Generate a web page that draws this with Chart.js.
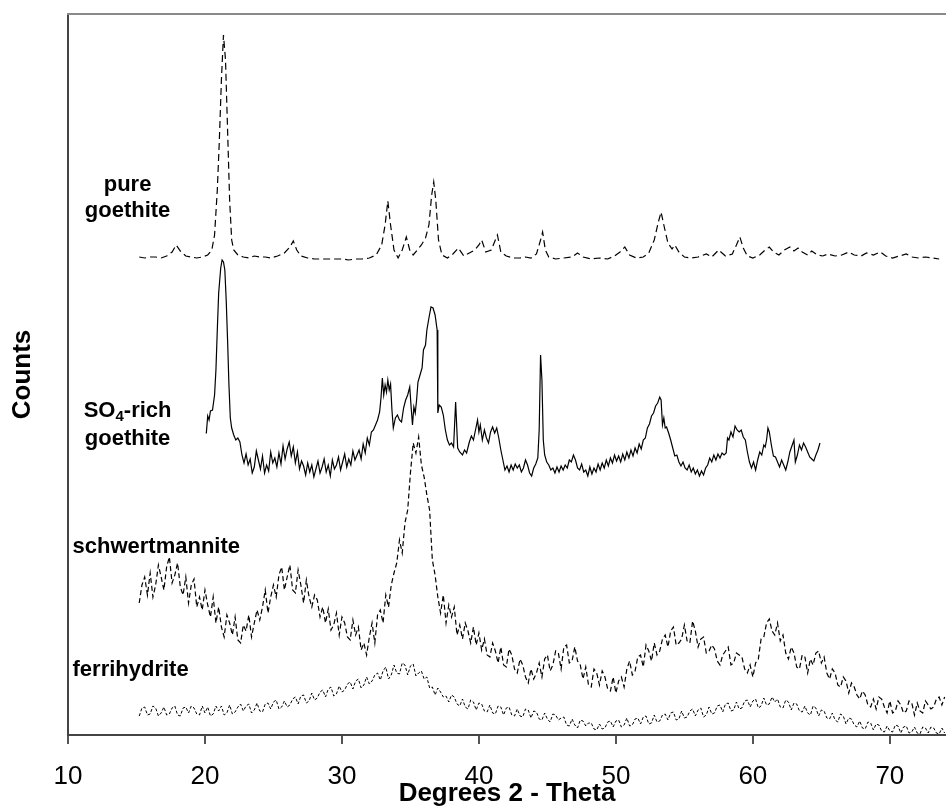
<!DOCTYPE html>
<html>
<head>
<meta charset="utf-8">
<title>XRD patterns</title>
<script src="https://cdn.jsdelivr.net/npm/chart.js@4.4.1/dist/chart.umd.min.js"></script>
<style>
  html, body { margin: 0; padding: 0; background: #fff; }
  #xrd { display: block; }
</style>
</head>
<body>
<canvas id="xrd" width="946" height="810"></canvas>
<script>
const fontFamily = '"Liberation Sans", Arial, Helvetica, sans-serif'

// x axis tick labels (degrees 2-theta)
const thetaTicks = [10, 20, 30, 40, 50, 60, 70]

// pure goethite (offset upwards)
const pureTheta = [
    15.2, 15.6, 16.0, 16.4, 16.8, 17.2, 17.6, 17.9, 18.2, 18.6, 19.0, 19.4, 19.8, 20.2, 20.5, 20.7, 20.9, 21.05, 21.2, 21.35,
    21.5, 21.65, 21.8, 21.95, 22.1, 22.4, 22.8, 23.2, 23.6, 24.0, 24.4, 24.8, 25.3, 25.8, 26.2, 26.45, 26.7, 27.0, 27.5, 28.0,
    28.5, 29.0, 29.5, 30.0, 30.5, 31.0, 31.5, 32.0, 32.5, 32.9, 33.15, 33.35, 33.55, 33.8, 34.1, 34.4, 34.7, 34.95, 35.2, 35.5,
    35.8, 36.1, 36.35, 36.55, 36.7, 36.85, 37.05, 37.3, 37.7, 38.1, 38.5, 38.9, 39.3, 39.7, 40.0, 40.2, 40.5, 40.9, 41.2, 41.35,
    41.6, 42.0, 42.5, 43.0, 43.4, 43.8, 44.2, 44.5, 44.65, 44.85, 45.1, 45.6, 46.2, 46.8, 47.2, 47.6, 48.2, 48.8, 49.4, 49.9,
    50.3, 50.65, 51.0, 51.5, 52.0, 52.4, 52.8, 53.1, 53.3, 53.5, 53.8, 54.1, 54.3, 54.6, 55.0, 55.5, 56.0, 56.6, 57.0, 57.5,
    58.0, 58.5, 58.8, 59.05, 59.3, 59.6, 60.0, 60.5, 60.9, 61.2, 61.5, 61.9, 62.3, 62.7, 63.0, 63.3, 63.6, 64.0, 64.3, 64.7,
    65.1, 65.5, 66.0, 66.5, 67.0, 67.4, 67.9, 68.3, 68.8, 69.3, 69.7, 70.2, 70.7, 71.2, 71.6, 72.1, 72.6, 73.1, 73.6
]
const pureCounts = [
    478, 477, 478, 478, 477, 479, 483, 490, 484, 479, 478, 477, 478, 480, 485, 500, 545, 595, 655, 700,
    675, 605, 535, 495, 485, 480, 478, 477, 479, 478, 478, 477, 479, 482, 488, 494, 485, 479, 477, 476,
    476, 476, 476, 476, 475, 476, 476, 477, 480, 490, 510, 534, 510, 485, 477, 485, 498, 485, 480, 485,
    490, 497, 510, 540, 553, 535, 495, 480, 477, 481, 487, 479, 482, 485, 490, 495, 483, 485, 495, 500,
    483, 479, 477, 477, 478, 477, 481, 495, 503, 485, 478, 476, 477, 478, 482, 478, 476, 477, 476, 479,
    483, 488, 480, 477, 478, 482, 495, 513, 523, 510, 492, 486, 490, 483, 478, 477, 478, 481, 478, 485,
    479, 481, 490, 498, 487, 479, 477, 480, 485, 488, 483, 480, 485, 488, 484, 487, 483, 480, 484, 480,
    479, 481, 479, 480, 483, 480, 479, 482, 480, 483, 479, 477, 479, 481, 478, 477, 478, 477, 476
]

// SO4-rich goethite
const so4Theta = [
    20.05, 20.1, 20.2, 20.3, 20.4, 20.55, 20.7, 20.8, 20.9, 21.0, 21.15, 21.25, 21.35, 21.45, 21.55, 21.65, 21.75, 21.85, 21.95, 22.1,
    22.25, 22.4, 22.55, 22.7, 22.85, 23.0, 23.15, 23.3, 23.45, 23.6, 23.75, 23.9, 24.05, 24.2, 24.35, 24.5, 24.65, 24.8, 24.95, 25.1,
    25.25, 25.4, 25.55, 25.7, 25.85, 26.0, 26.15, 26.3, 26.45, 26.6, 26.75, 26.9, 27.05, 27.2, 27.35, 27.5, 27.65, 27.8, 27.95, 28.1,
    28.25, 28.4, 28.55, 28.7, 28.85, 29.0, 29.15, 29.3, 29.45, 29.6, 29.75, 29.9, 30.05, 30.2, 30.35, 30.5, 30.65, 30.8, 30.95, 31.1,
    31.25, 31.4, 31.55, 31.7, 31.85, 32.0, 32.15, 32.3, 32.45, 32.6, 32.75, 32.85, 32.95, 33.05, 33.15, 33.25, 33.35, 33.45, 33.55, 33.65,
    33.75, 33.9, 34.05, 34.2, 34.35, 34.5, 34.65, 34.8, 34.95, 35.05, 35.15, 35.25, 35.35, 35.45, 35.55, 35.7, 35.85, 35.95, 36.1, 36.2,
    36.35, 36.5, 36.65, 36.8, 36.95, 37.0, 37.1, 37.25, 37.4, 37.55, 37.7, 37.85, 38.0, 38.15, 38.3, 38.45, 38.6, 38.8, 38.95, 39.1,
    39.3, 39.45, 39.6, 39.75, 39.9, 40.0, 40.1, 40.25, 40.4, 40.55, 40.7, 40.85, 41.0, 41.15, 41.3, 41.45, 41.6, 41.75, 41.9, 42.05,
    42.2, 42.35, 42.5, 42.65, 42.8, 42.95, 43.1, 43.25, 43.4, 43.55, 43.7, 43.85, 44.0, 44.15, 44.3, 44.4, 44.5, 44.6, 44.7, 44.8,
    44.95, 45.1, 45.25, 45.4, 45.55, 45.7, 45.85, 46.0, 46.15, 46.3, 46.45, 46.6, 46.75, 46.9, 47.05, 47.2, 47.35, 47.5, 47.65, 47.8,
    47.95, 48.1, 48.25, 48.4, 48.55, 48.7, 48.85, 49.0, 49.15, 49.3, 49.45, 49.6, 49.75, 49.9, 50.05, 50.2, 50.35, 50.5, 50.65, 50.8,
    50.95, 51.1, 51.25, 51.4, 51.55, 51.7, 51.85, 52.0, 52.15, 52.3, 52.45, 52.6, 52.75, 52.9, 53.05, 53.2, 53.3, 53.4, 53.5, 53.6,
    53.7, 53.85, 54.0, 54.15, 54.3, 54.45, 54.6, 54.75, 54.9, 55.05, 55.2, 55.35, 55.5, 55.65, 55.8, 55.95, 56.1, 56.25, 56.4, 56.55,
    56.7, 56.85, 57.0, 57.15, 57.3, 57.45, 57.6, 57.75, 57.9, 58.05, 58.15, 58.25, 58.4, 58.55, 58.7, 58.85, 59.0, 59.15, 59.3, 59.45,
    59.6, 59.75, 59.9, 60.05, 60.2, 60.35, 60.5, 60.65, 60.8, 60.9, 61.0, 61.1, 61.2, 61.35, 61.5, 61.65, 61.8, 61.95, 62.1, 62.25,
    62.4, 62.55, 62.7, 62.85, 63.0, 63.1, 63.25, 63.4, 63.55, 63.7, 63.85, 64.0, 64.15, 64.3, 64.45, 64.6, 64.75, 64.9
]
const so4Counts = [
    302, 302, 319, 315, 324, 325, 340, 365, 405, 442, 467, 475, 473, 465, 435, 395, 350, 317, 307, 300,
    295, 297, 293, 280, 272, 281, 270, 276, 262, 268, 284, 275, 266, 279, 262, 270, 264, 283, 272, 277,
    268, 282, 271, 289, 276, 286, 293, 279, 288, 272, 283, 266, 274, 269, 260, 272, 263, 270, 258, 266,
    274, 262, 268, 276, 263, 270, 259, 275, 266, 270, 278, 265, 273, 281, 268, 276, 270, 284, 275, 280,
    285, 276, 291, 282, 297, 290, 303, 305, 310, 315, 323, 337, 357, 340, 350, 343, 355, 345, 351, 325,
    307, 317, 320, 315, 313, 327, 335, 340, 348, 328, 310, 328, 322, 335, 353, 360, 367, 385, 390, 405,
    417, 428, 427, 420, 405, 322, 330, 328, 320, 305, 295, 290, 292, 288, 333, 287, 283, 280, 285, 282,
    293, 299, 295, 305, 315, 303, 310, 295, 305, 297, 292, 303, 308, 302, 307, 297, 285, 275, 265, 269,
    263, 270, 265, 271, 267, 270, 263, 267, 275, 270, 262, 259, 267, 271, 277, 305, 380, 355, 295, 280,
    273, 270, 265, 267, 262, 268, 263, 269, 265, 270, 267, 275, 273, 280, 275, 267, 265, 271, 263, 265,
    259, 268, 261, 267, 263, 271, 265, 272, 267, 275, 269, 277, 272, 280, 274, 279, 273, 281, 275, 283,
    277, 285, 279, 287, 282, 291, 286, 295, 297, 307, 311, 319, 322, 329, 332, 338, 335, 310, 317, 307,
    308, 302, 295, 287, 279, 280, 273, 269, 273, 267, 265, 270, 263, 267, 261, 265, 259, 264, 260, 267,
    270, 277, 273, 280, 275, 281, 277, 282, 280, 282, 297, 295, 303, 298, 309, 305, 303, 305, 298, 295,
    283, 273, 267, 273, 265, 275, 283, 280, 290, 288, 295, 307, 303, 290, 279, 278, 273, 268, 275, 270,
    265, 273, 283, 289, 295, 273, 280, 290, 285, 292, 288, 283, 278, 276, 274, 280, 285, 292
]

// schwertmannite and ferrihydrite were scanned in 0.2 degree steps from 15.2
const scanStart = 15.2
const scanStep = 0.2

const schwCounts = [
    132, 150, 158, 140,
    162, 138, 150, 170, 158,
    145, 168, 178, 152, 160,
    172, 148, 140, 158, 132,
    150, 156, 128, 138, 125,
    145, 130, 118, 138, 112,
    128, 108, 98, 120, 112,
    100, 118, 95, 92, 110,
    104, 120, 98, 112, 125,
    115, 128, 145, 122, 138,
    150, 138, 160, 168, 145,
    158, 170, 145, 142, 165,
    150, 132, 155, 138, 128,
    140, 135, 118, 128, 112,
    126, 105, 110, 122, 100,
    118, 112, 98, 95, 115,
    100, 108, 85, 92, 80,
    98, 112, 92, 120, 125,
    112, 140, 128, 150, 162,
    172, 195, 182, 212, 225,
    262, 292, 282, 298, 270,
    258, 240, 225, 175, 160,
    138, 122, 140, 112, 130,
    118, 128, 100, 110, 96,
    112, 104, 92, 108, 90,
    102, 85, 96, 80, 78,
    92, 84, 72, 88, 70,
    68, 86, 80, 66, 62,
    76, 70, 58, 52, 66,
    56, 62, 72, 58, 76,
    80, 64, 70, 84, 82,
    66, 88, 90, 72, 74,
    88, 74, 70, 56, 68,
    50, 48, 66, 62, 50,
    64, 58, 46, 44, 58,
    42, 54, 58, 48, 66,
    74, 60, 64, 78, 80,
    68, 90, 84, 74, 92,
    80, 84, 96, 100, 88,
    104, 108, 90, 92, 96,
    110, 94, 92, 114, 104,
    88, 96, 98, 82, 84,
    90, 86, 74, 70, 80,
    84, 88, 70, 72, 82,
    80, 78, 66, 62, 70,
    58, 72, 76, 96, 98,
    112, 116, 104, 100, 112,
    94, 100, 82, 76, 88,
    82, 68, 66, 80, 78,
    62, 76, 70, 82, 84,
    72, 78, 62, 56, 66,
    62, 50, 48, 58, 54,
    42, 52, 48, 40, 36,
    44, 40, 30, 28, 36,
    26, 38, 36, 28, 22,
    34, 22, 24, 34, 30,
    22, 24, 34, 32, 20,
    32, 24, 22, 34, 30,
    26, 28, 36, 38, 30,
    38
]

const ferriCounts = [
    19, 27, 28, 20,
    21, 29, 27, 19, 22,
    28, 20, 21, 27, 29,
    20, 19, 27, 28, 22,
    29, 27, 21, 20, 29,
    22, 28, 19, 21, 29,
    24, 29, 20, 22, 30,
    21, 23, 28, 31, 24,
    29, 31, 22, 25, 32,
    24, 23, 31, 32, 26,
    33, 35, 26, 28, 34,
    28, 30, 36, 38, 31,
    39, 40, 32, 34, 42,
    35, 37, 43, 45, 38,
    46, 48, 39, 41, 49,
    43, 45, 51, 53, 46,
    54, 56, 47, 50, 58,
    51, 54, 60, 62, 55,
    64, 68, 56, 60, 70,
    62, 61, 72, 70, 60,
    69, 71, 59, 62, 64,
    56, 58, 47, 48, 40,
    47, 43, 38, 39, 33,
    40, 38, 31, 29, 36,
    28, 26, 35, 33, 25,
    32, 31, 24, 23, 30,
    22, 21, 29, 28, 20,
    27, 28, 20, 19, 26,
    19, 18, 26, 25, 17,
    24, 23, 16, 15, 22,
    16, 13, 21, 20, 15,
    17, 18, 10, 9, 16,
    10, 7, 15, 14, 9,
    12, 12, 6, 5, 11,
    6, 7, 13, 14, 8,
    14, 15, 8, 10, 17,
    9, 10, 16, 17, 11,
    18, 19, 11, 12, 20,
    13, 14, 20, 21, 15,
    22, 23, 15, 16, 24,
    17, 18, 24, 26, 19,
    25, 27, 18, 20, 28,
    21, 22, 29, 30, 23,
    31, 32, 24, 25, 33,
    26, 27, 34, 35, 28,
    34, 36, 27, 29, 37,
    30, 31, 38, 33, 36,
    28, 27, 35, 33, 25,
    32, 31, 24, 23, 29,
    22, 20, 29, 27, 19,
    25, 24, 17, 16, 22,
    15, 13, 21, 19, 11,
    17, 16, 10, 8, 14,
    7, 6, 13, 12, 5,
    11, 10, 4, 3, 9,
    4, 3, 10, 9, 2,
    8, 9, 2, 3, 8,
    2, 1, 8, 7, 2,
    8, 7, 2, 1, 7,
    2
]

// sample names drawn inside the plot, anchored in data units
const sampleNames = ['pure', 'goethite', 'SO4-rich', 'goethite', 'schwertmannite', 'ferrihydrite']
const nameTheta = [14.35, 14.35, 14.35, 14.35, 10.33, 10.33]
const nameCounts = [550, 524, 324, 296, 188, 65]
const nameAlign = ['center', 'center', 'center', 'center', 'left', 'left']

function pairs(xs, ys) {
    return ys.map((y, i) => ({ x: xs[i], y: y }))
}
function stepScan(ys) {
    return ys.map((y, i) => ({ x: +(scanStart + i * scanStep).toFixed(2), y: y }))
}

// draws the grey top frame line and the sample names
const sampleLabels = {
    id: 'sampleLabels',
    afterDatasetsDraw(chart) {
        const { ctx, chartArea, scales: { x, y } } = chart
        ctx.save()
        ctx.strokeStyle = '#8a8a8a'
        ctx.lineWidth = 2
        ctx.beginPath()
        ctx.moveTo(chartArea.left - 1, chartArea.top)
        ctx.lineTo(chartArea.right, chartArea.top)
        ctx.stroke()

        ctx.fillStyle = '#000'
        ctx.textBaseline = 'middle'
        const bold = 'bold 22px ' + fontFamily
        const sub = 'bold 15px ' + fontFamily
        sampleNames.forEach((name, i) => {
            const px = x.getPixelForValue(nameTheta[i])
            const py = y.getPixelForValue(nameCounts[i])
            ctx.font = bold
            if (name === 'SO4-rich') {
                // SO with subscript 4
                ctx.textAlign = 'left'
                const wSO = ctx.measureText('SO').width
                const wRich = ctx.measureText('-rich').width
                ctx.font = sub
                const w4 = ctx.measureText('4').width
                let left = px - (wSO + w4 + wRich) / 2
                ctx.font = bold
                ctx.fillText('SO', left, py)
                ctx.font = sub
                ctx.fillText('4', left + wSO, py + 6)
                ctx.font = bold
                ctx.fillText('-rich', left + wSO + w4, py)
            } else {
                ctx.textAlign = nameAlign[i]
                ctx.fillText(name, px, py)
            }
        })
        ctx.restore()
    }
}

const ctx = document.getElementById('xrd').getContext('2d')
const xrdChart = new Chart(ctx, {
    type: 'line',
    data: {
        datasets: [
            {
                label: 'pure goethite',
                data: pairs(pureTheta, pureCounts),
                borderColor: '#000',
                borderWidth: 1.2,
                borderDash: [7, 4]
            },
            {
                label: 'SO4-rich goethite',
                data: pairs(so4Theta, so4Counts),
                borderColor: '#000',
                borderWidth: 1.2
            },
            {
                label: 'schwertmannite',
                data: stepScan(schwCounts),
                borderColor: '#000',
                borderWidth: 1.2,
                borderDash: [5, 3]
            },
            {
                label: 'ferrihydrite',
                data: stepScan(ferriCounts),
                borderColor: '#000',
                borderWidth: 1,
                borderDash: [3, 2]
            }
        ]
    },
    options: {
        responsive: false,
        animation: false,
        events: [],
        elements: {
            point: { radius: 0 },
            line: { tension: 0, fill: false }
        },
        layout: {
            padding: { top: 14, left: 0, right: 0, bottom: 0 }
        },
        scales: {
            x: {
                type: 'linear',
                min: 10,
                max: 74.1,
                afterBuildTicks: (scale) => {
                    scale.ticks = thetaTicks.map(v => ({ value: v }))
                },
                afterFit: (scale) => { scale.height = 75 },
                border: { display: true, color: '#444', width: 2 },
                grid: {
                    drawOnChartArea: false,
                    drawTicks: true,
                    tickLength: 9,
                    color: '#555',
                    lineWidth: 2
                },
                ticks: {
                    color: '#000',
                    padding: 17,
                    maxRotation: 0,
                    font: { family: fontFamily, size: 26 }
                },
                title: {
                    display: true,
                    text: 'Degrees 2 - Theta',
                    color: '#000',
                    font: { family: fontFamily, size: 26, weight: 'bold' },
                    padding: { top: 0, bottom: 1 }
                }
            },
            y: {
                min: 0,
                max: 721,
                afterFit: (scale) => { scale.width = 68 },
                border: { display: true, color: '#444', width: 2 },
                grid: { display: false },
                ticks: { display: false },
                title: {
                    display: true,
                    text: 'Counts',
                    color: '#000',
                    font: { family: fontFamily, size: 26, weight: 'bold' },
                    padding: { top: 7, bottom: 0 }
                }
            }
        },
        plugins: {
            legend: { display: false },
            tooltip: { enabled: false }
        }
    },
    plugins: [sampleLabels]
})
</script>
</body>
</html>
